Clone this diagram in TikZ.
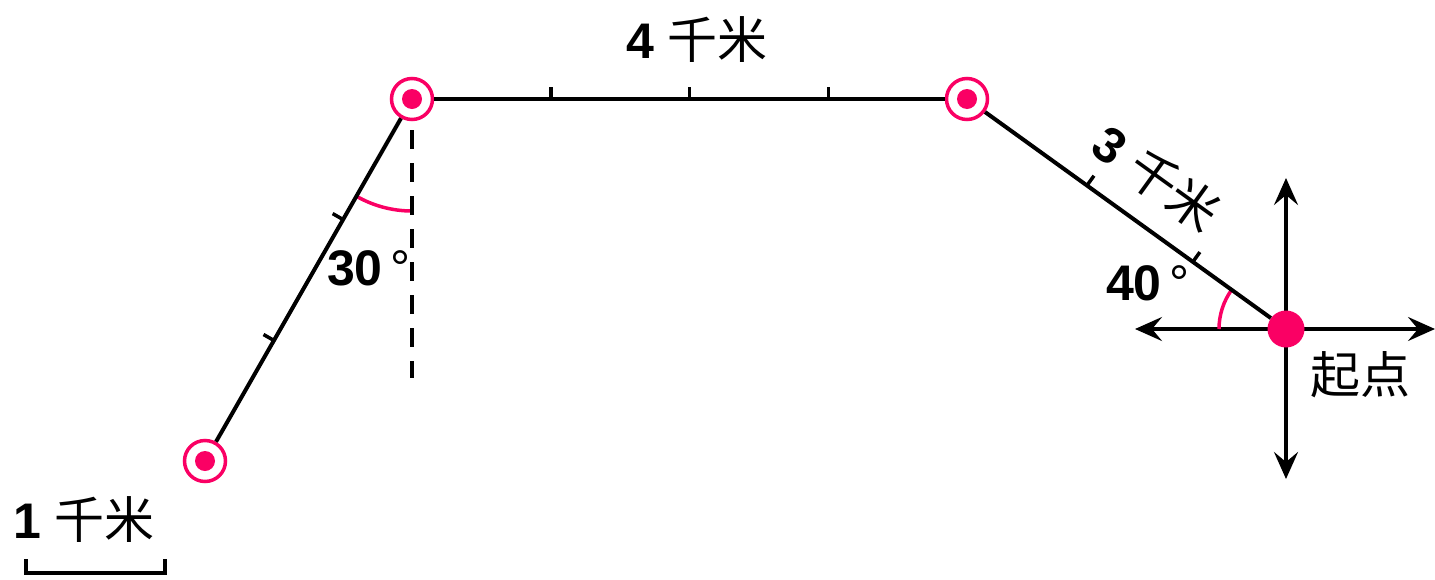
\documentclass[tikz,border=0pt]{standalone}
\usepackage{fontspec}
\setmainfont{Liberation Sans}
\newfontfamily\cjk{Noto Sans CJK SC}
\usetikzlibrary{arrows.meta,calc,angles}
\definecolor{rosered}{RGB}{250,0,100}
\tikzset{
  seg/.style={line width=4pt},
  tickmark/.style={line width=3.5pt},
  stop/.style={circle, draw=rosered, line width=3.5pt, fill=white, minimum size=41pt, inner sep=0pt,
    path picture={\fill[rosered] (path picture bounding box.center) circle (10pt);}},
  start/.style={circle, fill=rosered, minimum size=37pt, inner sep=0pt},
  axis/.style={line width=3.5pt, -{Stealth[length=27pt, width=24pt, inset=10pt]}},
  anglemark/.style={draw=rosered, line width=3.5pt},
  lbl/.style={font=\fontsize{50}{54}\selectfont, inner sep=0pt}
}
\begin{document}
\begin{tikzpicture}[x=1pt, y=-1pt]
    \useasboundingbox (0,0) rectangle (1435,579);
    %Points
    \coordinate (a) at (205,461);
    \coordinate (b) at (412,99);
    \coordinate (c) at (967,99);
    \coordinate (o) at (1286,329);
    \coordinate (bfoot) at (412,378);
    \coordinate (east) at (1435,329);
    \coordinate (west) at (1135,329);
    \coordinate (north) at (1286,178);
    \coordinate (south) at (1286,479);

    %Axes at start point
    \draw[axis] (o) -- (east);
    \draw[axis] (o) -- (west);
    \draw[axis] (o) -- (north);
    \draw[axis] (o) -- (south);

    %Angles
    \pic[anglemark, angle radius=112pt] {angle=a--b--bfoot};
    \pic[anglemark, angle radius=67pt] {angle=c--o--west};

    %Stops
    \node[stop] (pA) at (a) {};
    \node[stop] (pB) at (b) {};
    \node[stop] (pC) at (c) {};
    \node[start] (pO) at (o) {};

    %Route
    \draw[seg] (pA) -- (pB);
    \draw[seg] (pB) -- (pC);
    \draw[seg] (pC) -- (pO);
    \draw[seg, dash pattern=on 19pt off 14pt] ($(b)+(0,31)$) -- (bfoot);

    %Ticks
    \foreach \t in {0.333,0.667}
      \draw[tickmark] ($(a)!\t!(b)$) -- ($($(a)!\t!(b)$)!12pt!90:(b)$);
    \foreach \t in {0.25,0.5,0.75}
      \draw[tickmark] ($(b)!\t!(c)$) -- ($($(b)!\t!(c)$)!12pt!90:(c)$);
    \foreach \t in {0.376,0.708}
      \draw[tickmark] ($(c)!\t!(o)$) -- ($($(c)!\t!(o)$)!12pt!90:(o)$);

    %Scale bar
    \coordinate (sL) at (26,573);
    \coordinate (sR) at (165,573);
    \draw[tickmark] ($(sL)+(0,-14)$) -- (sL) -- (sR) -- ($(sR)+(0,-14)$);

    %Labels
    \node[lbl] (l4) at (697,40) {\textbf{4} {\cjk 千米}};
    \node[lbl, rotate=-35.8] (l3) at (1157,178) {\textbf{3} {\cjk 千米}};
    \node[lbl] (l1) at (84,520) {\textbf{1} {\cjk 千米}};
    \node[lbl] (l30) at (369,268) {\textbf{30}\,°};
    \node[lbl] (l40) at (1148,283) {\textbf{40}\,°};
    \node[lbl] (lstart) at (1360,375) {{\cjk 起点}};
\end{tikzpicture}
\end{document}
